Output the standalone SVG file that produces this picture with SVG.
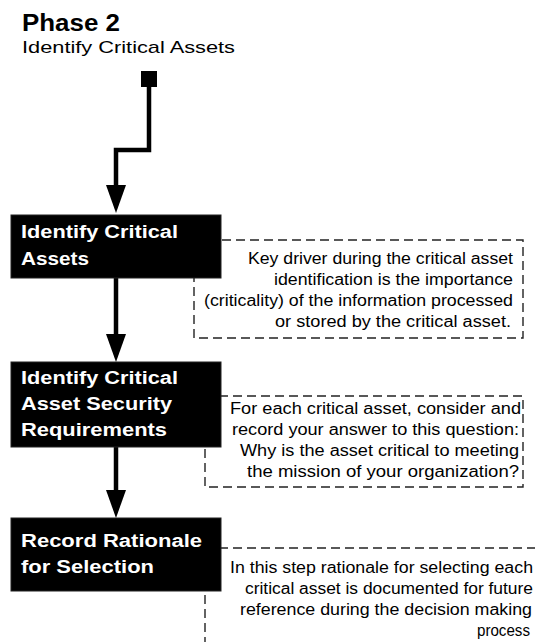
<svg xmlns="http://www.w3.org/2000/svg" width="535" height="642" viewBox="0 0 535 642">
<style>
.bg{fill:#fff}
.box{fill:#000;stroke:#222;stroke-width:1}
.bt{font-family:"Liberation Sans",Arial,sans-serif;font-weight:bold;font-size:18px;fill:#fff}
.note{fill:none;stroke:#222;stroke-width:1.4;stroke-dasharray:9 5}
.nt{font-family:"Liberation Sans",Arial,sans-serif;font-size:16px;fill:#000}
.conn{fill:none;stroke:#000;stroke-width:4.5;stroke-linejoin:miter}
.h1{font-family:"Liberation Sans",Arial,sans-serif;font-weight:bold;font-size:23px;fill:#000}
.h2{font-family:"Liberation Sans",Arial,sans-serif;font-size:17px;fill:#000}
</style>
<defs>
<marker id="ah" markerUnits="userSpaceOnUse" markerWidth="28" markerHeight="20" refX="15" refY="10" orient="auto">
<path d="M0,0 L28,10 L0,20 z" fill="#000"/>
</marker>
</defs>
<rect class="bg" x="0" y="0" width="535" height="642"/>
<g id="title">
<text class="h1" x="22" y="31" textLength="98" lengthAdjust="spacingAndGlyphs">Phase 2</text>
<text class="h2" x="22" y="53" textLength="213" lengthAdjust="spacingAndGlyphs">Identify Critical Assets</text>
</g>
<g id="notes">
<g id="note1">
<rect class="note" x="194" y="240" width="329" height="98"/>
<text class="nt" x="248" y="264" textLength="265" lengthAdjust="spacingAndGlyphs">Key driver during the critical asset</text>
<text class="nt" x="274" y="285" textLength="239" lengthAdjust="spacingAndGlyphs">identification is the importance</text>
<text class="nt" x="204" y="306" textLength="309" lengthAdjust="spacingAndGlyphs">(criticality) of the information processed</text>
<text class="nt" x="275" y="327" textLength="236" lengthAdjust="spacingAndGlyphs">or stored by the critical asset.</text>
</g>
<g id="note2">
<rect class="note" x="205" y="396" width="318" height="91"/>
<text class="nt" x="230" y="414" textLength="291" lengthAdjust="spacingAndGlyphs">For each critical asset, consider and</text>
<text class="nt" x="232" y="435" textLength="287" lengthAdjust="spacingAndGlyphs">record your answer to this question:</text>
<text class="nt" x="240" y="456" textLength="279" lengthAdjust="spacingAndGlyphs">Why is the asset critical to meeting</text>
<text class="nt" x="247" y="477" textLength="272" lengthAdjust="spacingAndGlyphs">the mission of your organization?</text>
</g>
<g id="note3">
<rect class="note" x="205" y="548" width="345" height="110"/>
<text class="nt" x="230" y="573" textLength="303" lengthAdjust="spacingAndGlyphs">In this step rationale for selecting each</text>
<text class="nt" x="245" y="594" textLength="288" lengthAdjust="spacingAndGlyphs">critical asset is documented for future</text>
<text class="nt" x="240" y="615" textLength="292" lengthAdjust="spacingAndGlyphs">reference during the decision making</text>
<text class="nt" x="477" y="636" textLength="53" lengthAdjust="spacingAndGlyphs">process</text>
</g>
</g>
<g id="connectors">
<rect x="141" y="71" width="16" height="16" fill="#000"/>
<path class="conn" d="M149 86 V150 H116 V200" marker-end="url(#ah)"/>
<path class="conn" d="M116 278 V349" marker-end="url(#ah)"/>
<path class="conn" d="M116 447 V505" marker-end="url(#ah)"/>
</g>
<g id="node1">
<rect class="box" x="11" y="215" width="210" height="63"/>
<text class="bt" x="21" y="238" textLength="157" lengthAdjust="spacingAndGlyphs">Identify Critical</text>
<text class="bt" x="21" y="265" textLength="68" lengthAdjust="spacingAndGlyphs">Assets</text>
</g>
<g id="node2">
<rect class="box" x="11" y="362" width="210" height="85"/>
<text class="bt" x="21" y="384" textLength="157" lengthAdjust="spacingAndGlyphs">Identify Critical</text>
<text class="bt" x="21" y="410" textLength="151" lengthAdjust="spacingAndGlyphs">Asset Security</text>
<text class="bt" x="21" y="436" textLength="146" lengthAdjust="spacingAndGlyphs">Requirements</text>
</g>
<g id="node3">
<rect class="box" x="11" y="518" width="210" height="73"/>
<text class="bt" x="21" y="547" textLength="181" lengthAdjust="spacingAndGlyphs">Record Rationale</text>
<text class="bt" x="21" y="573" textLength="133" lengthAdjust="spacingAndGlyphs">for Selection</text>
</g>
</svg>
